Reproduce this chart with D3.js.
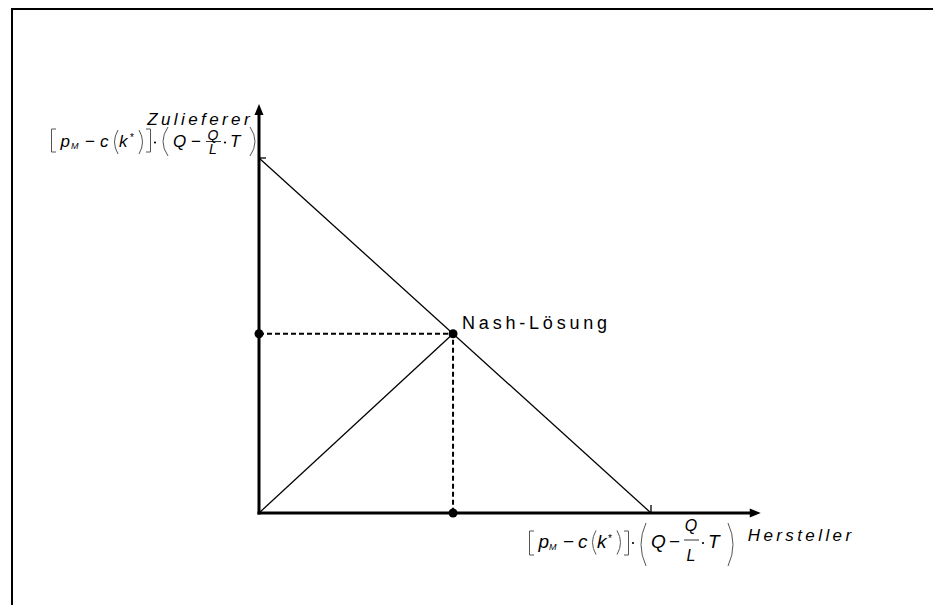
<!DOCTYPE html>
<meta charset="utf-8">
<style>
body { margin: 0; background: #fff; }
svg text { font-family: Arial, "Liberation Sans", sans-serif; fill: #000; }
.axis-name { font-style: italic; font-size: 17px; letter-spacing: 3.4px; }
.point-name { font-size: 18px; letter-spacing: 3.8px; }
.formula text { font-style: italic; }
.formula .op { font-style: normal; }
.formula path { fill: none; stroke: #555; stroke-width: 1; }
</style>
<svg width="933" height="605"></svg>
<script src="https://cdn.jsdelivr.net/npm/d3@7"></script>
<script>

// payoff frontier: Hersteller (x) vs Zulieferer (y), normalised to the maximum
var frontierHersteller = [0, 1];
var frontierZulieferer = [1, 0];
var nashPoint = [0.495, 0.505];
var axisNames = ["Hersteller", "Zulieferer"];
var nashLabel = "Nash-Lösung";
var axisMax = [1.28, 1.152];

var svg = d3.select("svg");

var x = d3.scaleLinear().domain([0, 1]).range([259, 651]);
var y = d3.scaleLinear().domain([0, 1]).range([513, 158]);

// frame
svg.append("path")
    .attr("d", "M12,605V9H933")
    .attr("fill", "none")
    .attr("stroke", "#000")
    .attr("stroke-width", 2);

// frontier line
var frontier = frontierHersteller.map(function(h, i) { return [h, frontierZulieferer[i]]; });
svg.append("path")
    .datum(frontier)
    .attr("d", d3.line().x(function(d) { return x(d[0]); }).y(function(d) { return y(d[1]); }))
    .attr("fill", "none")
    .attr("stroke", "#000")
    .attr("stroke-width", 1.3);

// line from origin to Nash point
svg.append("line")
    .attr("x1", x(0)).attr("y1", y(0))
    .attr("x2", x(nashPoint[0])).attr("y2", y(nashPoint[1]))
    .attr("stroke", "#000")
    .attr("stroke-width", 1.3);

// dashed projections
svg.append("path")
    .attr("d", "M" + x(0) + "," + y(nashPoint[1]) + "H" + x(nashPoint[0]) + "V" + y(0))
    .attr("fill", "none")
    .attr("stroke", "#000")
    .attr("stroke-width", 2)
    .attr("stroke-dasharray", "5,3");

// intercept ticks
svg.append("line")
    .attr("x1", x(1)).attr("x2", x(1))
    .attr("y1", y(0)).attr("y2", y(0) - 8)
    .attr("stroke", "#000").attr("stroke-width", 1.3);
svg.append("line")
    .attr("x1", x(0)).attr("x2", x(0) + 7)
    .attr("y1", y(1)).attr("y2", y(1))
    .attr("stroke", "#000").attr("stroke-width", 1.3);

// axes with arrow heads
var xEnd = x(axisMax[0]), yEnd = y(axisMax[1]);
svg.append("line")
    .attr("x1", x(0) - 1.5).attr("y1", y(0))
    .attr("x2", xEnd - 8).attr("y2", y(0))
    .attr("stroke", "#000").attr("stroke-width", 3);
svg.append("path")
    .attr("d", "M" + xEnd + "," + y(0) + "l-11,-4.5v9z");
svg.append("line")
    .attr("x1", x(0)).attr("y1", y(0) + 1.5)
    .attr("x2", x(0)).attr("y2", yEnd + 8)
    .attr("stroke", "#000").attr("stroke-width", 3);
svg.append("path")
    .attr("d", "M" + x(0) + "," + yEnd + "l-4.5,11h9z");

// dots
var dots = [nashPoint, [0, nashPoint[1]], [nashPoint[0], 0]];
svg.selectAll("circle.dot")
    .data(dots)
  .enter().append("circle")
    .attr("class", "dot")
    .attr("cx", function(d) { return x(d[0]); })
    .attr("cy", function(d) { return y(d[1]); })
    .attr("r", 4.5);

// labels
svg.append("text")
    .attr("class", "axis-name")
    .attr("x", xEnd - 13).attr("y", y(0) + 28)
    .text(axisNames[0]);
svg.append("text")
    .attr("class", "axis-name")
    .attr("text-anchor", "end")
    .attr("x", x(0) - 6).attr("y", yEnd + 21)
    .text(axisNames[1]);
svg.append("text")
    .attr("class", "point-name")
    .attr("x", x(nashPoint[0]) + 9).attr("y", y(nashPoint[1]) - 5)
    .text(nashLabel);

// [p_M - c(k*)] · (Q - Q/L · T); compact = squeezed fraction (upper label)
function formula(g, compact) {
  var br = compact ? [-18, 5] : [-16.5, 7.5],
      big = compact ? [-20, 9] : [-24.5, 18.5],
      main = compact ? 17 : 19,
      fs = compact ? 14 : 16,
      num = compact ? -7.5 : -16.5,
      bar = compact ? -5.5 : -7.5,
      den = compact ? 6.5 : 13.5;
  function paren(x0, dx, v) {
    return "M" + x0 + "," + v[0] + "Q" + (x0 + dx) + "," + ((v[0] + v[1]) / 2) + " " + x0 + "," + v[1];
  }
  g.attr("class", "formula").style("font-size", main + "px");
  g.append("path").attr("d", "M5," + br[0] + "H0.5V" + br[1] + "H5");
  g.append("text").attr("x", 9.5).text("p");
  g.append("text").attr("x", 20).attr("y", 2).style("font-size", "9px").text("M");
  g.append("text").attr("class", "op").attr("x", 34).text("\u2212");
  g.append("text").attr("x", 49).text("c");
  g.append("path").attr("d", paren(67, -7, [-17, 7]));
  g.append("text").attr("x", 68).text("k");
  g.append("text").attr("class", "op").attr("x", 79).attr("y", -6).style("font-size", "10px").text("*");
  g.append("path").attr("d", paren(88, 7, [-17, 7]));
  g.append("path").attr("d", "M95," + br[0] + "H99.5V" + br[1] + "H95");
  g.append("circle").attr("cx", 104).attr("cy", -4.5).attr("r", 1.1);
  g.append("path").attr("d", paren(117, -10, big));
  g.append("text").attr("x", 122).text("Q");
  g.append("text").attr("class", "op").attr("x", 140).text("\u2212");
  g.append("text").attr("x", 162).attr("y", num).attr("text-anchor", "middle")
      .style("font-size", fs + "px").text("Q");
  g.append("line").attr("x1", 155).attr("x2", 170).attr("y1", bar).attr("y2", bar)
      .attr("stroke", "#000").attr("stroke-width", 0.8);
  g.append("text").attr("x", 162).attr("y", den).attr("text-anchor", "middle")
      .style("font-size", fs + "px").text("L");
  g.append("circle").attr("cx", 174).attr("cy", -4.5).attr("r", 1.1);
  g.append("text").attr("x", 179).text("T");
  g.append("path").attr("d", paren(199, 10, big));
}

svg.append("g").attr("transform", "translate(51,147)").call(formula, true);
svg.append("g").attr("transform", "translate(529,547.5)").call(formula, false);

</script>
